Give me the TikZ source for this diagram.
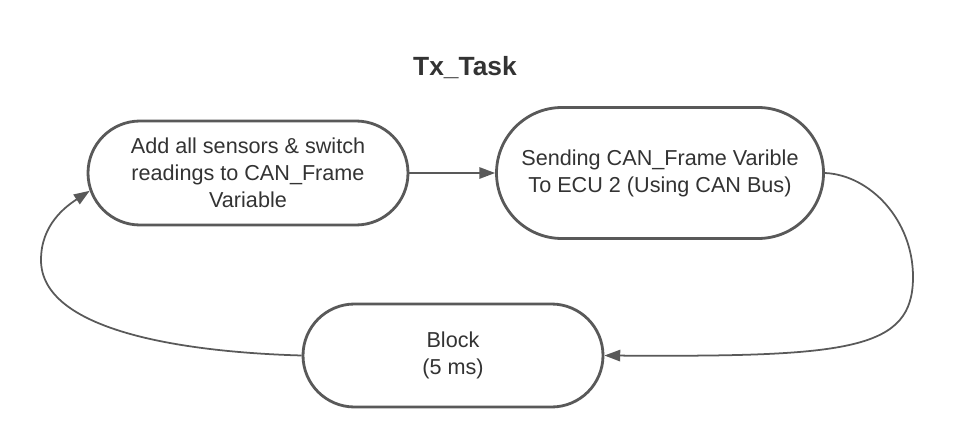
\documentclass[tikz,border=0pt]{standalone}
\usepackage{fontspec}
\setmainfont{Liberation Sans}
\usetikzlibrary{arrows.meta, shapes.misc, calc}
\definecolor{edgegray}{HTML}{595959}
\definecolor{textgray}{HTML}{333333}

\begin{document}
\begin{tikzpicture}[
    state/.style={rounded rectangle, draw=edgegray, line width=1.6pt, fill=white, text=textgray, align=center, inner sep=0pt, font=\fontsize{12.3}{15.4}\selectfont},
    flow/.style={draw=edgegray, line width=1pt, -{Triangle[length=9pt,width=6.5pt]}}
]
    \useasboundingbox (0,0) rectangle (19.06,8.94);

    % Title
    \node[anchor=base, text=textgray, font=\fontsize{15}{18}\selectfont\bfseries] (title) at (9.30,7.44) {Tx\_Task};

    % States
    \node[state, minimum width=6.4cm, minimum height=2.08cm] (collect) at (4.96,5.48) {Add all sensors \& switch\\readings to CAN\_Frame\\Variable};
    \node[state, minimum width=6.54cm, minimum height=2.62cm] (send) at (13.20,5.48) {Sending CAN\_Frame Varible\\To ECU 2 (Using CAN Bus)};
    \node[state, minimum width=6.0cm, minimum height=2.06cm] (block) at (9.06,1.83) {Block\\(5 ms)};

    % Transitions
    \draw[flow] (collect.east) -- (send.west);
    \draw[flow] (send.east) .. controls (17.40,5.44) and (18.26,4.54) .. (18.26,3.40)
        .. controls (18.26,1.94) and (17.00,1.80) .. (block.east);
    \draw[flow] (block.west) .. controls (3.60,1.90) and (0.82,2.34) .. (0.82,3.74)
        .. controls (0.82,4.44) and (1.30,4.80) .. ($(collect.west)+(1.04,0)+(200:1.04)$);
\end{tikzpicture}
\end{document}
